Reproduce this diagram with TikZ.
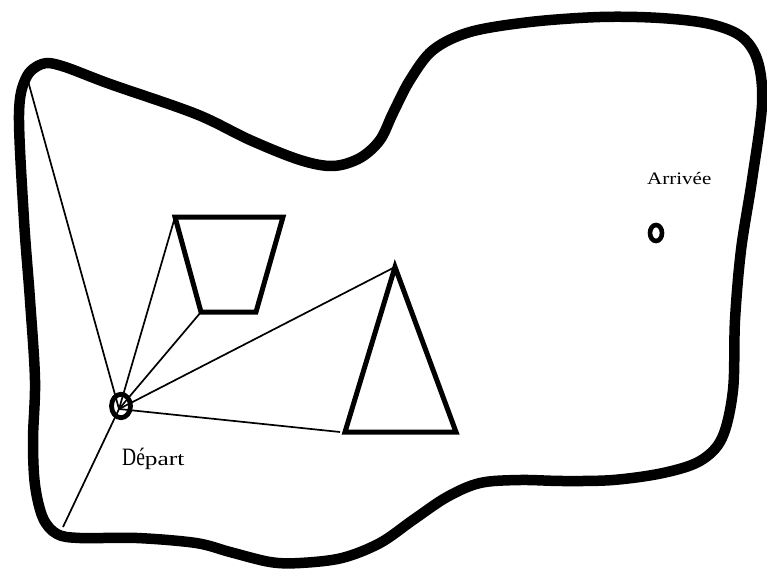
\documentclass[tikz,border=0pt]{standalone}
\usepackage{fontspec}
\setmainfont{Liberation Serif}
\usepackage{graphicx}
\usetikzlibrary{shapes.geometric}
\begin{document}
\begin{tikzpicture}[x=1pt,y=-1pt,
  wall/.style={line width=10.5pt, line join=round},
  obst/.style={line width=5pt, line join=miter},
  ray/.style={line width=1.7pt},
  ring/.style={draw, ellipse, line width=4.8pt, inner sep=0pt},
  lbl/.style={inner sep=0pt, anchor=base west}]
\useasboundingbox (0,0) rectangle (767,569);
% outer boundary
\draw[wall] plot[smooth cycle, tension=0.55] coordinates {
 (19,115) (26,78) (42,64) (62,66) (110,84) (196,114) (250,140) (300,160)
 (333,166) (360,158) (380,140) (393,113) (410,80) (433,50) (470,32)
 (530,22) (600,17) (660,18) (710,24) (742,37) (758,62) (762,105)
 (752,180) (741,250) (735,320) (733,390) (722,438)
 (700,461) (663,473) (613,480) (563,481) (520,480) (480,483) (447,497)
 (413,520) (380,543) (342,558) (300,563) (270,562) (230,552) (196,543)
 (137,538) (80,538) (57,534) (43,518) (35,485) (33,440) (35,380)
 (30,300) (24,220)};
% obstacles
\coordinate (q1) at (175,217);
\coordinate (q2) at (283,217);
\coordinate (q3) at (256,312);
\coordinate (q4) at (201,312);
\draw[obst] (q1) -- (q2) -- (q3) -- (q4) -- cycle;
\coordinate (t1) at (395,267);
\coordinate (t2) at (456,432);
\coordinate (t3) at (345,432);
\draw[obst] (t1) -- (t2) -- (t3) -- cycle;
% start and goal
\coordinate (D) at (119,409);
\coordinate (w1) at (28,81);
\coordinate (w2) at (63,527);
\coordinate (t3o) at (340,432);
\draw[ray] (D) -- (w1);
\draw[ray] (D) -- (q1);
\draw[ray] (D) -- (q4);
\draw[ray] (D) -- (t1);
\draw[ray] (D) -- (t3o);
\draw[ray] (D) -- (w2);
\node[ring, minimum width=19pt, minimum height=23.5pt] (dep) at (121,406) {};
\node[ring, line width=4.6pt, minimum width=12pt, minimum height=16pt] (goal) at (656,233) {};
\node[lbl] (arr) at (647,185) {\scalebox{1.2}[1]{\fontsize{17.5}{17.5}\selectfont Arrivée}};
\node[lbl] (depl) at (122,465) {\scalebox{0.78}[1]{\fontsize{25}{25}\selectfont Dé}\scalebox{1.3}[1]{\fontsize{19.5}{19.5}\selectfont part}};
\end{tikzpicture}
\end{document}
